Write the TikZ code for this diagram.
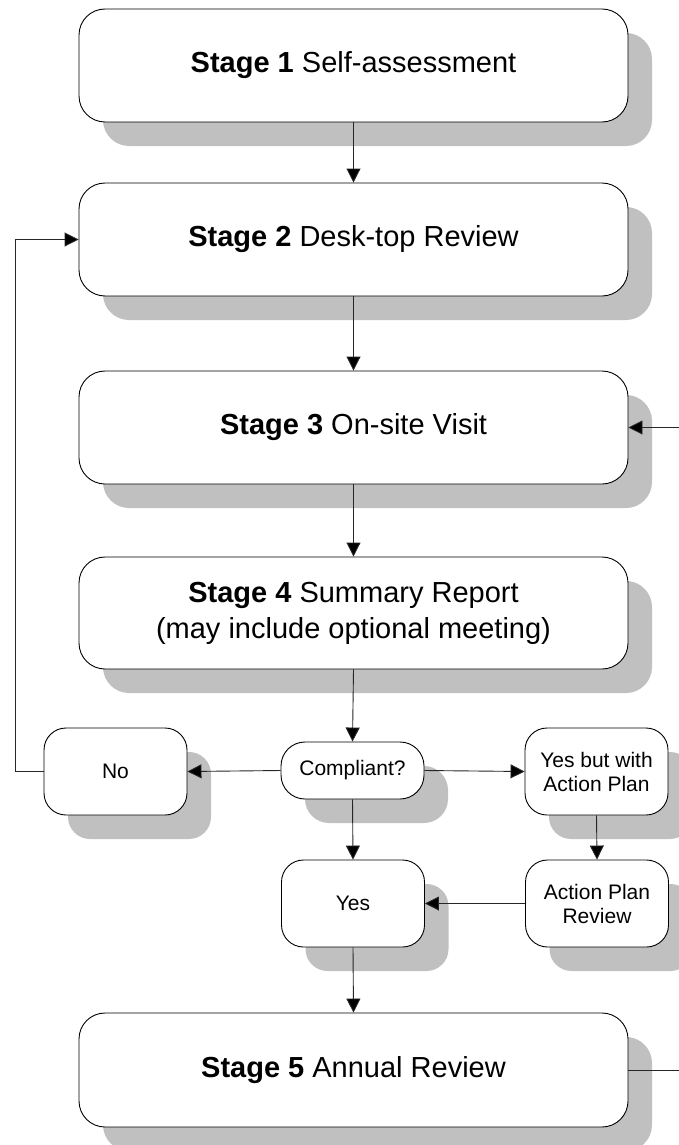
\documentclass[tikz,border=0pt]{standalone}
\usepackage{fontspec}
\setmainfont{Liberation Sans}
\usetikzlibrary{arrows.meta,shadows}
\definecolor{shadowgray}{HTML}{C0C0C0}
\tikzset{
  shad/.style={general shadow={fill=shadowgray,draw=none,shadow xshift=24pt,shadow yshift=-24pt}},
  stagebox/.style={shad,draw=black,line width=0.9pt,fill=white,rounded corners=26pt,
    minimum width=549pt,minimum height=113pt,inner sep=0pt,align=center,
    font=\fontsize{29}{36}\selectfont},
  smallbox/.style={shad,draw=black,line width=0.9pt,fill=white,rounded corners=22pt,
    minimum width=143pt,minimum height=87pt,inner sep=0pt,align=center,
    font=\fontsize{21}{24}\selectfont},
  pillbox/.style={smallbox,rounded corners=24pt,minimum height=57pt},
  arr/.style={draw=black!85,line width=0.9pt,-{Triangle[length=14pt,width=14pt,fill=black]}},
  plain/.style={draw=black!85,line width=0.9pt}
}
\begin{document}
\begin{tikzpicture}[x=1pt,y=-1pt]
\useasboundingbox (0,0) rectangle (679,1145);
\clip (0,0) rectangle (679,1145);
\node[stagebox] (s1) at (353.5,65.5) {\textbf{Stage 1} Self-assessment};
\node[stagebox] (s2) at (353.5,239.5) {\textbf{Stage 2} Desk-top Review};
\node[stagebox] (s3) at (353.5,427.5) {\textbf{Stage 3} On-site Visit};
\node[stagebox,minimum height=112pt] (s4) at (353.5,613) {\textbf{Stage 4} Summary Report\\(may include optional meeting)};
\node[pillbox] (comp) at (352.5,770.5) {Compliant?};
\node[smallbox] (no) at (115.5,771.5) {No};
\node[smallbox] (yb) at (596.5,771.5) {Yes but with\\Action Plan};
\node[smallbox] (yes) at (353,903.5) {Yes};
\node[smallbox] (apr) at (597,903.5) {Action Plan\\Review};
\node[stagebox,minimum height=114pt] (s5) at (353.5,1070) {\textbf{Stage 5} Annual Review};
\draw[arr] (s1.south) -- (s2.north);
\draw[arr] (s2.south) -- (s3.north);
\draw[arr] (s3.south) -- (s4.north);
\draw[arr] (s4.south) -- (comp.north);
\draw[arr] (comp.west) -- (no.east);
\draw[arr] (comp.east) -- (yb.west);
\draw[arr] (comp.south) -- (yes.north);
\draw[arr] (yb.south) -- (apr.north);
\draw[arr] (apr.west) -- (yes.east);
\draw[arr] (yes.south) -- (s5.north);
\draw[arr] (no.west) -- ++(-28,0) |- (s2.west);
\draw[arr] (s5.east) -- ++(70,0) |- (s3.east);
\end{tikzpicture}
\end{document}
